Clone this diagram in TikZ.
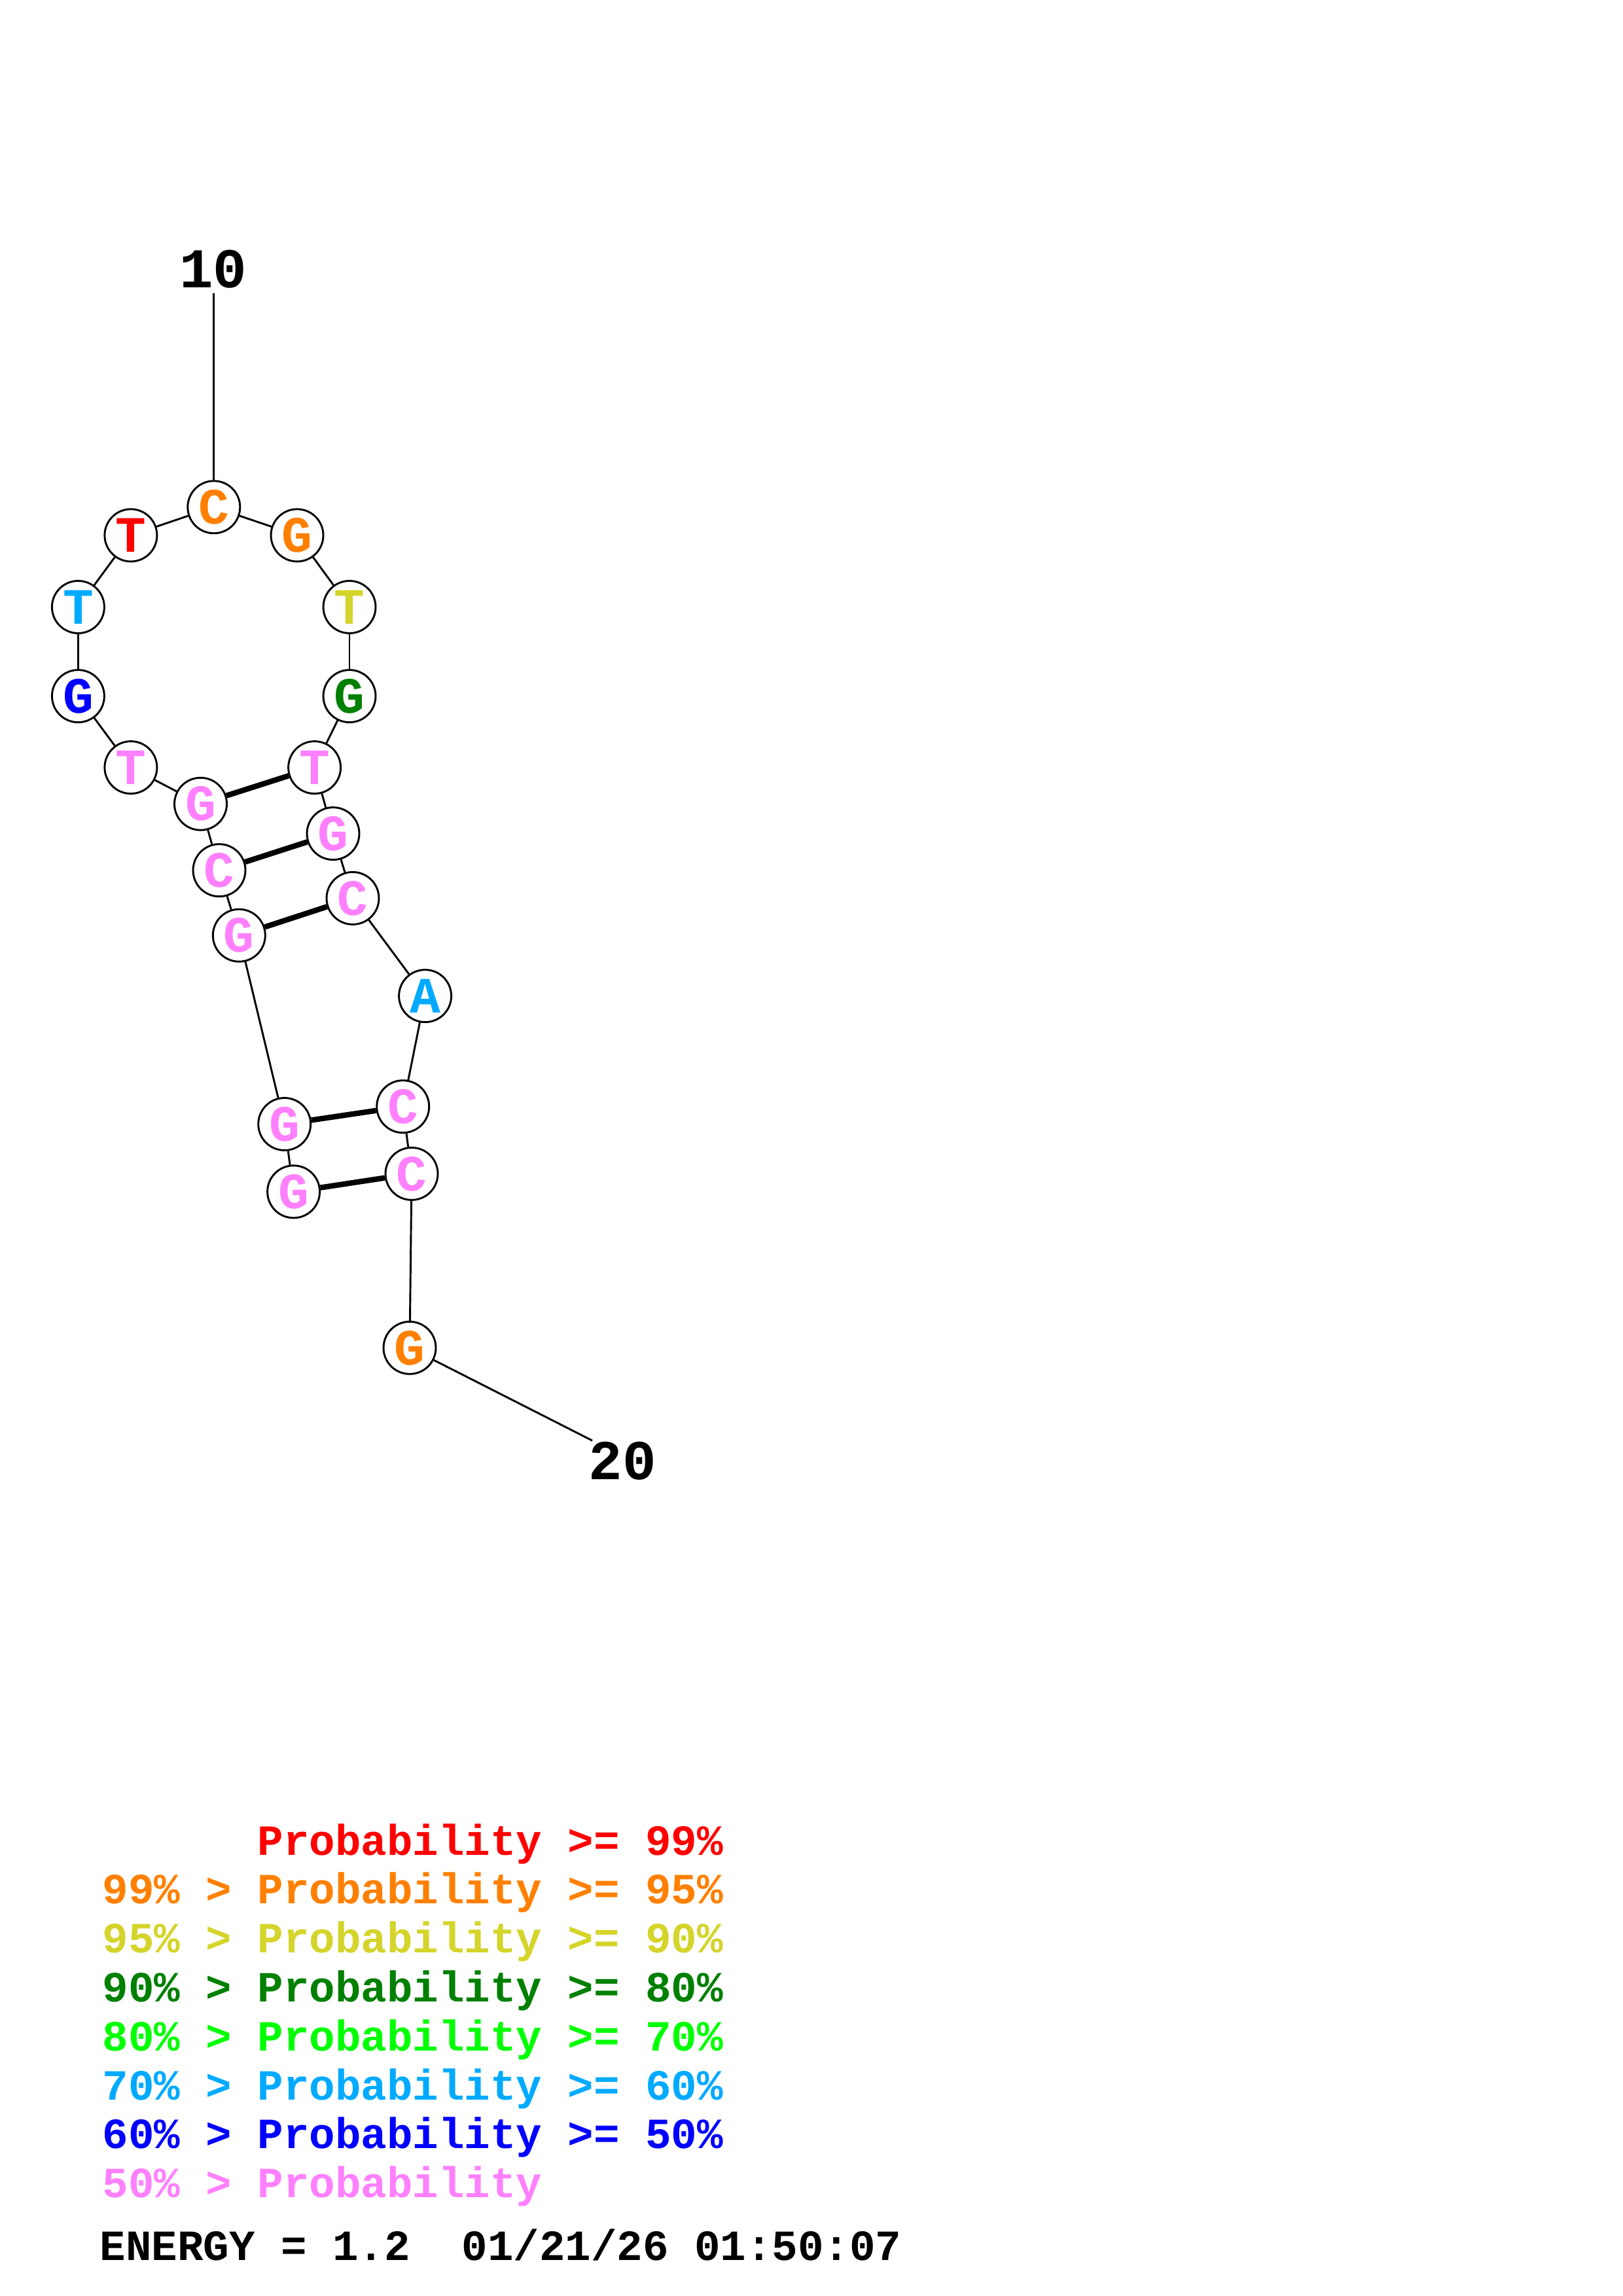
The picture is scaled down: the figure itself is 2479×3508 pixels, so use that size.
\documentclass[tikz,border=0pt]{standalone}
\usepackage{fontspec}
\setmonofont{Liberation Mono}
\definecolor{cRed}{RGB}{255,0,0}
\definecolor{cOrange}{RGB}{255,128,0}
\definecolor{cYellow}{RGB}{212,212,42}
\definecolor{cDkGreen}{RGB}{0,128,0}
\definecolor{cLime}{RGB}{0,255,0}
\definecolor{cCyan}{RGB}{0,170,255}
\definecolor{cBlue}{RGB}{0,0,255}
\definecolor{cPink}{RGB}{255,128,255}
\tikzset{
  nt/.style={circle,draw=black,line width=0.7pt,fill=white,minimum size=19.2pt,inner sep=0pt,
    font=\ttfamily\bfseries\fontsize{18.7}{18.7}\selectfont,text=#1},
  bb/.style={line width=0.7pt},
  bp/.style={line width=2pt},
  numlab/.style={font=\ttfamily\bfseries\fontsize{20.6}{20.6}\selectfont,inner sep=0pt},
  leg/.style={font=\ttfamily\bfseries\fontsize{15.8}{15.8}\selectfont,inner sep=0pt,anchor=base west,text=#1}
}
\begin{document}
\begin{tikzpicture}[x=0.24pt,y=-0.24pt]
\useasboundingbox (0,0) rectangle (2479,3508);
% labels
\node[numlab] (l10) at (326,411) {10};
\node[numlab] (l20) at (951,2232) {20};
\coordinate (t10) at (326.8,448);
\coordinate (t20) at (905,2201);
% nucleotides
\node[nt=cPink] (n1) at (448.6,1820.8) {G};
\node[nt=cPink] (n2) at (434.7,1717.5) {G};
\node[nt=cPink] (n3) at (365.3,1429.2) {G};
\node[nt=cPink] (n4) at (335,1329.7) {C};
\node[nt=cPink] (n5) at (306.5,1228.3) {G};
\node[nt=cPink] (n6) at (199.9,1172.6) {T};
\node[nt=cBlue] (n7) at (119.4,1063.6) {G};
\node[nt=cCyan] (n8) at (119.4,927.5) {T};
\node[nt=cRed] (n9) at (199.9,817.9) {T};
\node[nt=cOrange] (n10) at (326.8,774.8) {C};
\node[nt=cOrange] (n11) at (454,817.9) {G};
\node[nt=cYellow] (n12) at (534,927.5) {T};
\node[nt=cDkGreen] (n13) at (534,1063.6) {G};
\node[nt=cPink] (n14) at (480.6,1172.6) {T};
\node[nt=cPink] (n15) at (509,1273.6) {G};
\node[nt=cPink] (n16) at (539,1372.4) {C};
\node[nt=cCyan] (n17) at (649.6,1521.7) {A};
\node[nt=cPink] (n18) at (615.7,1690.7) {C};
\node[nt=cPink] (n19) at (629,1793.4) {C};
\node[nt=cOrange] (n20) at (626,2059.3) {G};
% backbone
\foreach \a/\b in {n1/n2,n2/n3,n3/n4,n4/n5,n5/n6,n6/n7,n7/n8,n8/n9,n9/n10,n10/n11,n11/n12,n12/n13,n13/n14,n14/n15,n15/n16,n16/n17,n17/n18,n18/n19,n19/n20}
  \draw[bb] (\a) -- (\b);
% base pairs
\draw[bp] (n5) -- (n14);
\draw[bp] (n4) -- (n15);
\draw[bp] (n3) -- (n16);
\draw[bp] (n2) -- (n18);
\draw[bp] (n1) -- (n19);
% number ticks
\draw[bb] (t10) -- (n10);
\draw[bb] (n20) -- (t20);
% legend
\node[leg=cRed] (g1) at (393,2834) {Probability >= 99\%};
\node[leg=cOrange] (g2) at (156,2908.8) {99\% > Probability >= 95\%};
\node[leg=cYellow] (g3) at (156,2983.6) {95\% > Probability >= 90\%};
\node[leg=cDkGreen] (g4) at (156,3058.4) {90\% > Probability >= 80\%};
\node[leg=cLime] (g5) at (156,3133.2) {80\% > Probability >= 70\%};
\node[leg=cCyan] (g6) at (156,3208) {70\% > Probability >= 60\%};
\node[leg=cBlue] (g7) at (156,3282.8) {60\% > Probability >= 50\%};
\node[leg=cPink] (g8) at (156,3357.6) {50\% > Probability};
\node[leg=black] (en) at (152,3453) {ENERGY = 1.2~~01/21/26 01:50:07};
\end{tikzpicture}
\end{document}
